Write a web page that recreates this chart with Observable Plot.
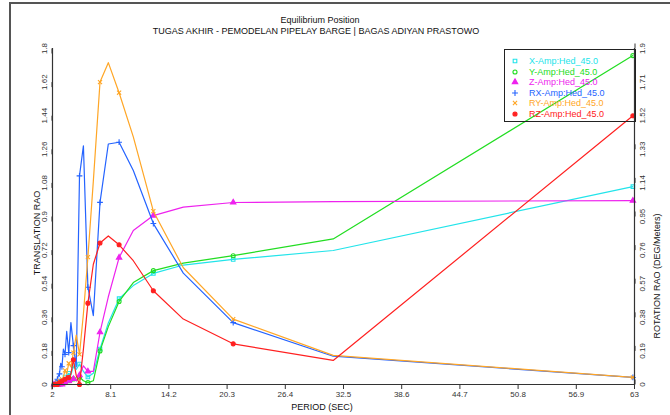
<!DOCTYPE html>
<html><head><meta charset="utf-8">
<script src="https://cdn.jsdelivr.net/npm/d3@7"></script>
<script src="https://cdn.jsdelivr.net/npm/@observablehq/plot@0.6"></script>
<style>
html,body{margin:0;padding:0;background:#fff;}
#wrap{position:relative;width:670px;height:415px;overflow:hidden;font-family:"Liberation Sans",Arial,sans-serif;color:#111;}
#frame{position:absolute;left:9px;top:2px;width:720px;height:520px;border:2px solid #555;box-sizing:border-box;}
#chart{position:absolute;left:0;top:0;}
.t{position:absolute;white-space:nowrap;font-size:9px;line-height:1;}
.c{transform:translate(-50%,-50%);}
.rot{transform:translate(-50%,-50%) rotate(-90deg);}
#legend{position:absolute;left:504px;top:49px;width:132px;height:73px;border:1px solid #222;box-sizing:border-box;}
.li{position:absolute;left:0;height:10px;font-size:9px;line-height:10px;white-space:nowrap;}
.li svg{position:absolute;left:5px;top:0;}
.li span{position:absolute;left:24px;top:0;}
</style></head>
<body><div id="wrap"><div id="frame"></div></div>
<script>
// ---- data ----
const periods = [62.83, 31.42, 20.94, 15.71, 12.57, 10.47, 8.98, 7.85, 6.98, 6.28, 5.71, 5.24, 4.83, 4.49, 4.19, 3.93, 3.70, 3.49, 3.31, 3.14, 2.99, 2.86, 2.73, 2.62, 2.51, 2.42, 2.33, 2.24, 2.17, 2.09];
const xAmp  = [1.06, 0.718, 0.67, 0.64, 0.595, 0.53, 0.46, 0.33, 0.19, 0.06, 0.04, 0.07, 0.11, 0.08, 0.10, 0.05, 0.06, 0.03, 0.04, 0.02, 0.02, 0.01, 0.01, 0.01, 0.005, 0.005, 0, 0, 0, 0];
const yAmp  = [1.762, 0.78, 0.69, 0.65, 0.61, 0.546, 0.445, 0.31, 0.18, 0.02, 0.01, 0.02, 0.04, 0.02, 0.03, 0.01, 0.02, 0.01, 0.01, 0.005, 0.005, 0, 0, 0, 0, 0, 0, 0, 0, 0];
const zAmp  = [0.985, 0.98, 0.975, 0.95, 0.905, 0.825, 0.68, 0.47, 0.28, 0.07, 0.07, 0.10, 0.05, 0.02, 0.03, 0.01, 0.02, 0.01, 0.01, 0.005, 0, 0, 0, 0, 0, 0, 0, 0, 0, 0];
const rxAmp = [0.04, 0.16, 0.35, 0.63, 0.91, 1.21, 1.37, 1.36, 1.03, 0.39, 0.55, 1.35, 1.18, 0.10, 0.22, 0.35, 0.18, 0.30, 0.17, 0.20, 0.10, 0.12, 0.06, 0.05, 0.03, 0.02, 0.01, 0.01, 0, 0];
const ryAmp = [0.04, 0.165, 0.37, 0.66, 0.98, 1.40, 1.65, 1.82, 1.71, 1.15, 0.72, 0.40, 0.17, 0.28, 0.18, 0.10, 0.12, 0.06, 0.08, 0.04, 0.03, 0.02, 0.02, 0.01, 0.01, 0.01, 0, 0, 0, 0];
const rzAmp = [1.52, 0.136, 0.23, 0.37, 0.53, 0.70, 0.79, 0.84, 0.80, 0.68, 0.46, 0.20, 0.0, 0.05, 0.14, 0.06, 0.04, 0.05, 0.03, 0.03, 0.02, 0.01, 0.01, 0.01, 0, 0, 0, 0, 0, 0];

const seriesNames = ["X-Amp:Hed_45.0", "Y-Amp:Hed_45.0", "Z-Amp:Hed_45.0", "RX-Amp:Hed_45.0", "RY-Amp:Hed_45.0", "RZ-Amp:Hed_45.0"];
const seriesColors = ["#22e4ea", "#22dd22", "#ee22ee", "#2463ff", "#ffa626", "#ff2020"];
const seriesSymbols = ["square", "circle", "triangle", "plus", "times", "circle"];
const seriesFilled = [false, false, true, false, false, true];
const seriesRotation = [false, false, false, true, true, true];
const seriesValues = [xAmp, yAmp, zAmp, rxAmp, ryAmp, rzAmp];

const xTicks = [2, 8.1, 14.2, 20.3, 26.4, 32.5, 38.6, 44.7, 50.8, 56.9, 63];
const yTicksLeft = [0, 0.18, 0.36, 0.54, 0.72, 0.9, 1.08, 1.26, 1.44, 1.62, 1.8];
const yTicksRight = [0, 0.19, 0.38, 0.57, 0.76, 0.95, 1.14, 1.33, 1.52, 1.71, 1.9];

const title1 = "Equilibrium Position";
const title2 = "TUGAS AKHIR - PEMODELAN PIPELAY BARGE | BAGAS ADIYAN PRASTOWO";
const xLabel = "PERIOD (SEC)";
const yLabelLeft = "TRANSLATION RAO";
const yLabelRight = "ROTATION RAO (DEG/Meters)";

// ---- build ----
const leftMax = 1.8, rightMax = 1.9;
const toLeft = v => v * leftMax / rightMax;
const rows = [];
seriesNames.forEach((name, s) => {
  seriesValues[s].forEach((v, i) => rows.push({series: name, s, i, period: periods[i], value: v,
    yv: seriesRotation[s] ? toLeft(v) : v}));
});
const rightPos = yTicksRight.map(toLeft);
const rightLabel = new Map(rightPos.map((p, i) => [p, String(yTicksRight[i])]));

const marks = [];
seriesNames.forEach((name, s) => {
  const data = rows.filter(d => d.s === s);
  marks.push(Plot.line(data, {x: "period", y: "yv", stroke: seriesColors[s], strokeWidth: 1.2}));
  const dd = data.filter(d => d.i % 2 === 0);
  marks.push(Plot.dot(dd, {x: "period", y: "yv", symbol: () => seriesSymbols[s], r: 2,
    stroke: seriesColors[s], fill: seriesFilled[s] ? seriesColors[s] : "none", strokeWidth: 1.1}));
});

const chart = Plot.plot({
  width: 670, height: 415,
  marginLeft: 52, marginRight: 36, marginTop: 48, marginBottom: 31,
  x: {domain: [2, 63]},
  y: {domain: [0, leftMax]},
  style: {fontFamily: "'Liberation Sans', Arial, sans-serif", fontSize: "8px", background: "none", color: "#333", overflow: "visible"},
  marks: [
    ...marks,
    Plot.ruleX([2], {stroke: "#333", strokeWidth: 1.2}),
    Plot.ruleX([63], {stroke: "#333", strokeWidth: 1.2}),
    Plot.ruleY([0], {stroke: "#333", strokeWidth: 1.2}),
    Plot.axisX({ticks: xTicks, tickFormat: d => String(d), tickSize: 5, tickPadding: 2, label: null, stroke: "#333"}),
    Plot.axisY({ticks: yTicksLeft, tickFormat: d => String(d), tickSize: 5, tickPadding: 3, rotate: -90, textAnchor: "middle", label: null, stroke: "#333"}),
    Plot.axisY({anchor: "right", ticks: rightPos, tickFormat: d => rightLabel.get(d), tickSize: 5, tickPadding: 3, rotate: -90, textAnchor: "middle", label: null, stroke: "#333"})
  ]
});
chart.id = "chart";
const wrap = document.getElementById("wrap");
wrap.appendChild(chart);

function addText(txt, x, y, cls) {
  const d = document.createElement("div");
  d.className = "t " + cls;
  d.style.left = x + "px"; d.style.top = y + "px";
  d.textContent = txt;
  wrap.appendChild(d);
}
addText(title1, 320, 20, "c");
addText(title2, 316, 31, "c");
addText(xLabel, 322, 407, "c");
addText(yLabelLeft, 37, 233, "rot");
addText(yLabelRight, 657, 276, "rot");

// legend
const lg = document.createElement("div");
lg.id = "legend";
seriesNames.forEach((name, s) => {
  const it = document.createElement("div");
  it.className = "li";
  it.style.top = (6 + s * 10.6) + "px";
  const sym = d3.symbol(({square: d3.symbolSquare, circle: d3.symbolCircle, triangle: d3.symbolTriangle, plus: d3.symbolPlus, times: d3.symbolTimes})[seriesSymbols[s]], 13)();
  it.innerHTML = `<svg width="10" height="10"><path transform="translate(5,5)" d="${sym}" stroke="${seriesColors[s]}" stroke-width="1.1" fill="${seriesFilled[s] ? seriesColors[s] : 'none'}"/></svg><span style="color:${seriesColors[s]}">${name}</span>`;
  lg.appendChild(it);
});
wrap.appendChild(lg);
</script></body></html>
